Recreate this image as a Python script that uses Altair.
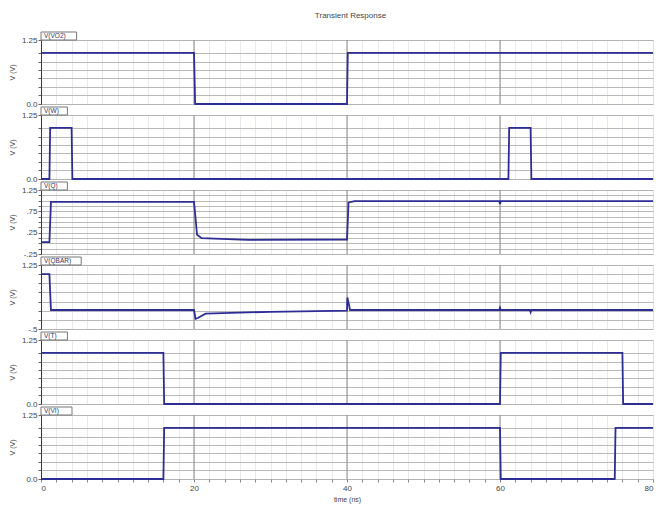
import altair as alt
import pandas as pd

chart_title = "Transient Response"
x_title = "time (ns)"
x_minor = list(range(0, 81, 2))
x_major = [20, 40, 60]

names = ["V(VO2)", "V(W)", "V(Q)", "V(QBAR)", "V(T)", "V(VI)"]

# traces (time in ns, voltage in V)
t1 = [0, 20, 20.15, 40, 40.1, 80]
v1 = [1.0, 1.0, 0.0, 0.0, 1.0, 1.0]

t2 = [0, 1.1, 1.2, 4.0, 4.1, 61.1, 61.2, 64.0, 64.1, 80]
v2 = [0.0, 0.0, 1.0, 1.0, 0.0, 0.0, 1.0, 1.0, 0.0, 0.0]

t3 = [0, 1.1, 1.3, 20, 20.4, 21, 27, 40, 40.2, 41, 59.9, 60, 60.1, 80]
v3 = [0.03, 0.03, 0.97, 0.97, 0.2, 0.12, 0.08, 0.09, 0.96, 0.99, 0.99, 0.92, 0.99, 0.99]

t4 = [0, 1.1, 1.3, 20, 20.2, 20.5, 21.5, 30, 40, 40.05, 40.4, 59.9, 60, 60.1, 63.9, 64, 64.1, 80]
v4 = [1.0, 1.0, 0.02, 0.02, -0.22, -0.2, -0.08, -0.03, 0.0, 0.36, 0.02, 0.02, 0.08, 0.02, 0.02, -0.04, 0.02, 0.02]

t5 = [0, 16, 16.1, 60, 60.1, 76, 76.1, 80]
v5 = [1.0, 1.0, 0.0, 0.0, 1.0, 1.0, 0.0, 0.0]

t6 = [0, 16, 16.1, 60, 60.1, 75, 75.1, 80]
v6 = [0.0, 0.0, 1.0, 1.0, 0.0, 0.0, 1.0, 1.0]

domains = [[0, 1.25], [0, 1.25], [-0.25, 1.25], [-0.5, 1.25], [0, 1.25], [0, 1.25]]
grid_std = [0, 0.17, 0.33, 0.5, 0.67, 0.83, 1.0, 1.25]
grid_q = [-0.25, -0.125, 0, 0.125, 0.25, 0.375, 0.5, 0.625, 0.75, 0.875, 1.0, 1.125, 1.25]
grid_qb = [-0.5, -0.25, 0, 0.25, 0.5, 0.75, 1.0, 1.25]
grids = [grid_std, grid_std, grid_q, grid_qb, grid_std, grid_std]
label_vals = [[1.25, 0], [1.25, 0], [1.25, 0.75, 0.25, -0.25], [1.25, -0.5], [1.25, 0], [1.25, 0]]
label_txt = [["1.25", "0.0"], ["1.25", "0.0"], ["1.25", ".75", ".25", "-.25"], ["1.25", "-.5"],
             ["1.25", "0.0"], ["1.25", "0.0"]]

traces = [(t1, v1), (t2, v2), (t3, v3), (t4, v4), (t5, v5), (t6, v6)]

LINE = "#2d2d96"
FONT = "Liberation Sans"


def panel(i):
    t, v = traces[i]
    df = pd.DataFrame({"t": t, "v": v})
    last = i == len(traces) - 1
    expr = " : ".join(f"abs(datum.value - ({a})) < 1e-6 ? '{b}'" for a, b in zip(label_vals[i], label_txt[i])) + " : ''"
    if last:
        xaxis = alt.Axis(values=x_minor, grid=True, gridColor="#e2e2ea", gridWidth=0.8,
                         labelExpr="datum.value % 20 == 0 ? datum.label : ''",
                         title=x_title, titleFontSize=7, titleFontWeight="normal", titleColor="#444",
                         titlePadding=3, labelFontSize=8, labelColor="#444", tickSize=3,
                         tickColor="#888", domain=False, labelFont=FONT, titleFont=FONT)
    else:
        xaxis = alt.Axis(values=x_minor, grid=True, gridColor="#e2e2ea", gridWidth=0.8,
                         labels=False, ticks=False, domain=False, title=None)
    x = alt.X("t:Q", scale=alt.Scale(domain=[0, 80], nice=False, zero=False), axis=xaxis)
    y = alt.Y("v:Q", scale=alt.Scale(domain=domains[i], nice=False, zero=False),
              axis=alt.Axis(values=grids[i], grid=True, gridColor="#a8a8a8", gridWidth=0.8,
                            labelExpr=expr, title="V (V)", titleFontSize=7,
                            titleFontWeight="normal", titleColor="#444", titlePadding=6,
                            labelFontSize=8, labelColor="#444", tickSize=3, tickColor="#666",
                            domainColor="#333366", labelFont=FONT, titleFont=FONT, labelPadding=1))
    majors = alt.Chart(pd.DataFrame({"t": x_major})).mark_rule(color="#8a8a8a", strokeWidth=1).encode(x=x)
    line = alt.Chart(df).mark_line(color=LINE, strokeWidth=1.8).encode(x=x, y=y)
    lab = pd.DataFrame({"label": [names[i]]})
    w = 8 + 4.6 * len(names[i])
    tab = alt.Chart(lab).mark_rect(fill="white", stroke="#777", strokeWidth=1).encode(
        x=alt.value(0), x2=alt.value(w), y=alt.value(-8), y2=alt.value(0))
    txt = alt.Chart(lab).mark_text(align="left", baseline="middle", fontSize=6.5, color="#336",
                                  font=FONT).encode(x=alt.value(3), y=alt.value(-4), text="label:N")
    return alt.layer(majors, line, tab, txt).properties(width=612, height=64)


chart = alt.vconcat(*[panel(i) for i in range(6)], spacing=11, bounds="flush").properties(
    title=alt.TitleParams(chart_title, fontSize=8, fontWeight="normal", color="#444", font=FONT,
                          offset=11, anchor="middle", dx=18)
).configure_view(stroke="#888", strokeWidth=1).configure(padding={"left": 7, "right": 0, "top": 12, "bottom": 2})

chart.save("out.html", embed_options={"renderer": "svg", "actions": False})
